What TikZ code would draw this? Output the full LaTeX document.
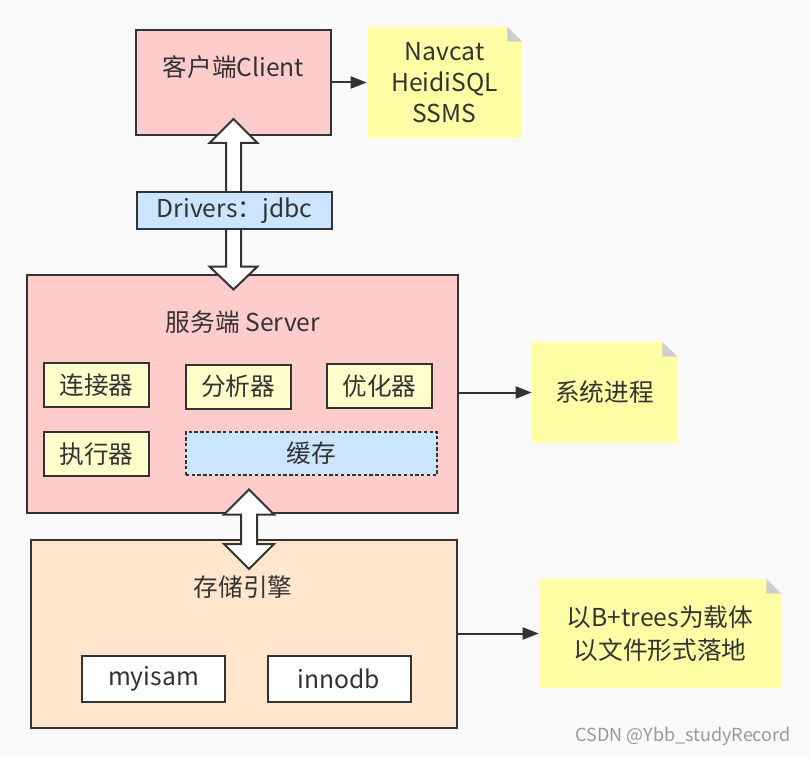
\documentclass[tikz,border=0pt]{standalone}
\usepackage{fontspec}
\setmainfont{Noto Sans CJK SC}
\usetikzlibrary{arrows.meta,calc}

\definecolor{bgcol}{RGB}{249,249,249}
\definecolor{edgecol}{RGB}{51,51,51}
\definecolor{pinkfill}{RGB}{255,204,204}
\definecolor{notefill}{RGB}{255,255,166}
\definecolor{partfill}{RGB}{255,255,204}
\definecolor{bluefill}{RGB}{204,229,255}
\definecolor{peachfill}{RGB}{255,230,204}
\definecolor{foldcol}{RGB}{206,206,206}

\tikzset{
  box/.style={draw=edgecol, line width=1.5pt, inner sep=0pt, align=center},
  part/.style={box, fill=partfill, minimum width=78.75pt, minimum height=33pt},
  engine/.style={box, fill=white, minimum width=107.25pt, minimum height=34.5pt},
  note/.style={fill=notefill, inner sep=0pt, align=center},
  fold/.style={fill=foldcol},
  cut/.style={fill=bgcol},
  arr/.style={draw=edgecol, line width=1.5pt, -{Triangle[length=12pt,width=9pt]}},
  bigarrow/.style={draw=edgecol, line width=1.5pt, fill=white, line join=miter},
  title/.style={inner sep=0pt}
}

\begin{document}
\begin{tikzpicture}[x=0.75pt,y=0.75pt,yscale=-1,xscale=1,
  font=\fontsize{18.5pt}{24.5pt}\selectfont, text=edgecol]
\useasboundingbox (0,0) rectangle (809,756);
\fill[bgcol] (0,0) rectangle (809,756);

%Client and its tools
\node[box, fill=pinkfill, minimum width=146.25pt, minimum height=78.75pt] (client) at (233.5,82.5) {};
\node[title] (clienttitle) at (233.5,67) {客户端Client};
\node[note, minimum width=116.25pt, minimum height=83.25pt, font=\fontsize{18.5pt}{23.25pt}\selectfont] (tools) at (444.5,82.5) {Navcat\\HeidiSQL\\SSMS};
\fill[cut] (tools.north east) -- ++(-15,0) -- ++(15,15) -- cycle;
\fill[fold] ($(tools.north east)+(-15,0)$) -- ++(0,15) -- ++(15,0) -- cycle;
\draw[arr] (client.east |- tools.west) -- (tools.west);

%Server
\node[box, fill=pinkfill, minimum width=323.25pt, minimum height=178.5pt] (server) at (242.5,393.5) {};
\node[title] (servertitle) at (243,322) {服务端 Server};
\node[part] (connector) at (96.5,385) {连接器};
\node[part] (parser) at (238,386.5) {分析器};
\node[part] (optimizer) at (379.5,386) {优化器};
\node[part] (executor) at (96.5,454) {执行器};
\node[box, fill=bluefill, dash pattern=on 2.5pt off 1.8pt, minimum width=188.25pt, minimum height=32.25pt] (cache) at (311.5,453.5) {缓存};
\node[note, minimum width=108.75pt, minimum height=75.75pt] (process) at (604.5,392.5) {系统进程};
\fill[cut] (process.north east) -- ++(-15,0) -- ++(15,15) -- cycle;
\fill[fold] ($(process.north east)+(-15,0)$) -- ++(0,15) -- ++(15,0) -- cycle;
\draw[arr] (server.east |- process.west) -- (process.west);

%Storage engine
\node[box, fill=peachfill, minimum width=319.5pt, minimum height=141pt] (storage) at (244,634) {};
\node[title] (storagetitle) at (243,587) {存储引擎};
\node[engine] (myisam) at (153.5,679) {myisam};
\node[engine] (innodb) at (339,679) {innodb};
\node[note, minimum width=181.5pt, minimum height=81.75pt] (files) at (660,633.5) {以B+trees为载体\\以文件形式落地};
\fill[cut] (files.north east) -- ++(-15,0) -- ++(15,15) -- cycle;
\fill[fold] ($(files.north east)+(-15,0)$) -- ++(0,15) -- ++(15,0) -- cycle;
\draw[arr] (storage.east |- files.west) -- (files.west);

%Double arrows
\coordinate (upA) at ($(client.south)+(0,-17)$);
\coordinate (downA) at ($(client.south |- server.north)+(0,16)$);
\draw[bigarrow] (upA) -- ++(24,24) -- ++(-16.5,0) -- ($(downA)+(7.5,-23)$) -- ++(16.5,0) -- (downA)
  -- ++(-24,-23) -- ++(16.5,0) -- ($(upA)+(-7.5,24)$) -- ++(-16.5,0) -- cycle;
\node[box, fill=bluefill, minimum width=146.25pt, minimum height=27.75pt] (drivers) at (234.5,210.5) {Drivers：jdbc};

\coordinate (upB) at ($(server.south)+(6.5,-24)$);
\coordinate (downB) at ($(server.south |- storage.north)+(6.5,30)$);
\draw[bigarrow] (upB) -- ++(25,25) -- ++(-17,0) -- ($(downB)+(8,-25)$) -- ++(17,0) -- (downB)
  -- ++(-25,-25) -- ++(17,0) -- ($(upB)+(-8,25)$) -- ++(-17,0) -- cycle;

% Text Node
\node[title, text=gray!80, font=\fontsize{13.5pt}{16pt}\selectfont] (mark) at (683,736) {CSDN @Ybb\_studyRecord};
\end{tikzpicture}
\end{document}
